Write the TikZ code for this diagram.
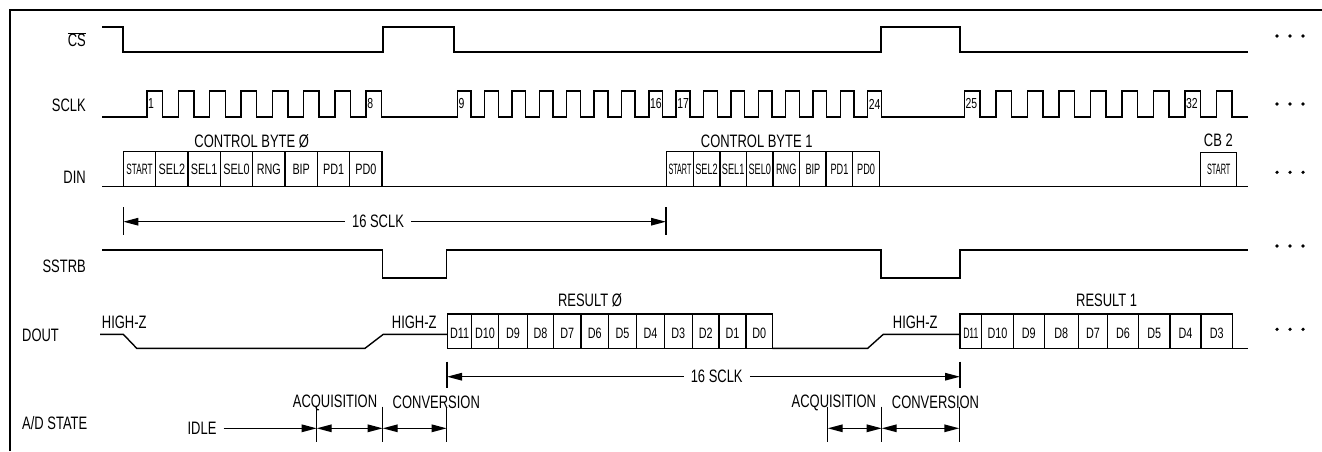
\documentclass[tikz,border=0pt]{standalone}
\usepackage{fontspec}
\setmainfont{Liberation Sans}[FakeStretch=0.72]
\usetikzlibrary{arrows.meta,positioning}

\newcommand{\hsqz}[2]{\scalebox{#1}[1]{#2}}

\begin{document}
\begin{tikzpicture}[
  x=1pt, y=-1pt,
  sig/.style={line width=1.4pt, line join=miter},
  frame/.style={line width=2.6pt},
  lbl/.style={inner sep=0pt, font=\fontsize{18}{20}\selectfont},
  dimlbl/.style={lbl, inner xsep=7pt},
  bit/.style={inner sep=0pt, font=\fontsize{15}{17}\selectfont},
  dinbit/.style={bit, draw, line width=1.4pt, anchor=south west,
    minimum height=35pt, outer sep=0pt},
  num/.style={inner sep=0pt, anchor=west, font=\fontsize{14.5}{16}\selectfont},
  tick/.style={line width=1.4pt},
  tip/.tip={Triangle[length=15pt,width=7.5pt]},
  dim/.style={line width=1.4pt, -tip},
  dimboth/.style={line width=1.4pt, tip-tip}
]
\useasboundingbox (0,0) rectangle (1322,451);

% Frame
\draw[frame] (10,451) -- (10,10) -- (1322,10);

% Signal names
\node[lbl, anchor=east] (nCS) at (86,39.5) {$\overline{\mbox{CS}}$};
\node[lbl, anchor=east] (nSCLK) at (86,105) {SCLK};
\node[lbl, anchor=east] (nDIN) at (86,177) {DIN};
\node[lbl, anchor=east] (nSSTRB) at (86,266) {SSTRB};
\node[lbl, anchor=west] (nDOUT) at (22,335) {DOUT};
\node[lbl, anchor=west] (nAD) at (22,423) {A/D STATE};

% CS
\draw[sig] (102,27) -- (123,27) -- (123,52) -- (383,52) -- (383,27)
  -- (454,27) -- (454,52) -- (881,52) -- (881,27) -- (960,27)
  -- (960,52) -- (1247.7,52);

% SCLK
\draw[sig] (102,117)
  foreach \i in {0,...,7} { -- ({147+31.3*\i},117) -- ++(0,-26) -- ++(15.6,0) -- ++(0,26) }
  foreach \i in {0,...,15} { -- ({457.3+27.36*\i},117) -- ++(0,-26) -- ++(13.7,0) -- ++(0,26) }
  foreach \i in {0,...,8} { -- ({964.3+31.5*\i},117) -- ++(0,-26) -- ++(15.7,0) -- ++(0,26) }
  -- (1247.7,117);
\node[num] (p1) at (148,104) {1};
\node[num] (p8) at (367.1,104) {8};
\node[num] (p9) at (458.3,104) {9};
\node[num] (p16) at (649.8,104) {16};
\node[num] (p17) at (677.1,104) {17};
\node[num] (p24) at (868.7,104) {24};
\node[num] (p25) at (965.3,104) {25};
\node[num] (p32) at (1185.8,104) {32};

% DIN
\draw[sig] (102,186.7) -- (1247.7,186.7);
\foreach \t [count=\i from 0] in {{\hsqz{0.76}{START}},SEL2,SEL1,SEL0,RNG,BIP,PD1,PD0}
  \node[dinbit, minimum width=32.35pt] (cb0-\i) at ({123.3+32.35*\i},186.7) {\t};
\foreach \t [count=\i from 0] in {{\hsqz{0.78}{START}},SEL2,SEL1,SEL0,RNG,BIP,PD1,PD0}
  \node[dinbit, minimum width=26.58pt] (cb1-\i) at ({666.7+26.58*\i},186.7) {\hsqz{0.85}{\t}};
\node[dinbit, minimum width=36pt, minimum height=34.4pt] (cb2) at (1200.7,186.7) {\hsqz{0.68}{START}};
\node[lbl] (cb0lbl) at (251.7,141.7) {CONTROL BYTE Ø};
\node[lbl] (cb1lbl) at (756.7,141.7) {CONTROL BYTE 1};
\node[lbl] (cb2lbl) at (1218.3,140) {CB 2};

% 16 SCLK (control)
\draw[tick] (123.3,207) -- (123.3,235);
\draw[tick] (666,207) -- (666,235);
\coordinate (ca) at (123.3,221.7);
\coordinate (cb) at (666,221.7);
\node[dimlbl] (sclkA) at (378,221.7) {16 SCLK};
\draw[dim] (sclkA) -- (ca);
\draw[dim] (sclkA) -- (cb);

% SSTRB
\draw[sig] (102,250) -- (382.7,250) -- (382.7,278) -- (446.7,278)
  -- (446.7,250) -- (881,250) -- (881,278) -- (960,278) -- (960,250)
  -- (1247.7,250);

% DOUT
\draw[sig] (100,334.3) -- (123.3,334.3) -- (136.7,348.3) -- (365,348.3)
  -- (383.3,334.3) -- (447.3,334.3);
\foreach \a/\b/\t in {447.3/471.7/D11, 471.7/498.3/D10, 498.3/527.7/D9,
    527.7/553.3/D8, 553.3/581/D7, 581/608.3/D6, 608.3/636.7/D5,
    636.7/664.3/D4, 664.3/692.3/D3, 692.3/719/D2, 719/746/D1, 746/772.3/D0} {
  \draw[sig] (\a,314) rectangle (\b,348.3);
  \node[bit] (r0\t) at ({(\a+\b)/2},333.5) {\t};
}
\draw[sig] (772.3,348.3) -- (867.7,348.3) -- (883.3,334.3) -- (960,334.3);
\foreach \a/\b/\t [count=\k] in {960/981.7/{\hsqz{0.8}{D11}}, 981.7/1013.3/D10,
    1013.3/1044.3/D9, 1044.3/1078.3/D8, 1078.3/1107.7/D7, 1107.7/1138.3/D6,
    1138.3/1170/D5, 1170/1201/D4, 1201/1232.3/D3} {
  \draw[sig] (\a,314) rectangle (\b,348.3);
  \node[bit] (r1-\k) at ({(\a+\b)/2},333.5) {\t};
}
\draw[sig] (1232.3,348.3) -- (1247.7,348.3);
\node[lbl, anchor=west] (hz1) at (101.7,322) {HIGH-Z};
\node[lbl, anchor=west] (hz2) at (391.7,322) {HIGH-Z};
\node[lbl, anchor=west] (hz3) at (892.7,322) {HIGH-Z};
\node[lbl] (res0) at (590,300) {RESULT Ø};
\node[lbl] (res1) at (1106.7,300) {RESULT 1};

% 16 SCLK (result)
\draw[tick] (447,361.7) -- (447,388.3);
\draw[tick] (960,361.7) -- (960,388.3);
\coordinate (ra) at (447,376.7);
\coordinate (rb) at (960,376.7);
\node[dimlbl] (sclkB) at (716.7,376.7) {16 SCLK};
\draw[dim] (sclkB) -- (ra);
\draw[dim] (sclkB) -- (rb);

% A/D state
\foreach \x [count=\k] in {316.7,382.7,446.7,827.7,881.7,959.3} {
  \draw[tick] (\x,406.7) -- (\x,441.7);
  \coordinate (s\k) at (\x,428.3);
}
\node[dimlbl] (idle) at (202,428.3) {IDLE};
\draw[dim] (idle) -- (s1);
\draw[dimboth] (s1) -- (s2);
\draw[dimboth] (s2) -- (s3);
\draw[dimboth] (s4) -- (s5);
\draw[dimboth] (s5) -- (s6);
\node[lbl] (acq1) at (335,402.7) {ACQUISITION};
\node[lbl] (conv1) at (436.3,402.7) {CONVERSION};
\node[lbl] (acq2) at (833.8,402.7) {ACQUISITION};
\node[lbl] (conv2) at (935.5,402.7) {CONVERSION};

% Continuation dots
\foreach \y in {36,104,172.3,246,329.3}
  \foreach \x in {1277,1290,1303}
    \fill (\x,\y) circle (1.8pt);

\end{tikzpicture}
\end{document}
